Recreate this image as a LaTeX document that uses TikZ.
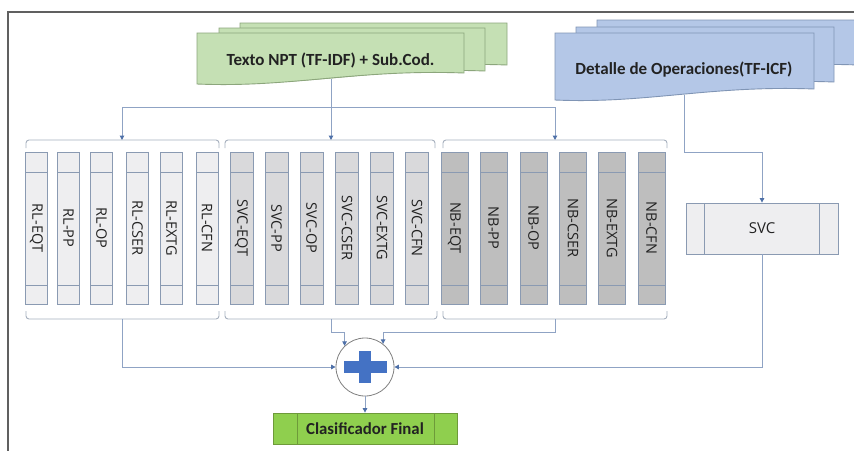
\documentclass[tikz,border=0pt]{standalone}
\usepackage{fontspec}
\setmainfont{Open Sans}
\newfontfamily\calib{Carlito}
\usetikzlibrary{arrows.meta,calc}
\definecolor{framecol}{HTML}{606060}
\definecolor{conncol}{HTML}{8FA3C4}
\definecolor{tipcol}{HTML}{4E70A8}
\definecolor{brkcol}{HTML}{A7B0BE}
\definecolor{boxcol}{HTML}{8A9AB2}
\definecolor{rlfill}{HTML}{EEEEF0}
\definecolor{svcfill}{HTML}{D9D9DB}
\definecolor{nbfill}{HTML}{BEBEBE}
\definecolor{gdocfill}{HTML}{C5E0B4}
\definecolor{gdocline}{HTML}{8CA67C}
\definecolor{bdocfill}{HTML}{B4C7E7}
\definecolor{bdocline}{HTML}{8095B5}
\definecolor{fingreen}{HTML}{8FCF4E}
\definecolor{finline}{HTML}{6E9A3A}
\definecolor{pluscol}{HTML}{4472C4}
\definecolor{txtcol}{HTML}{222222}
\newcommand\mdoc[5]{%
  \pgfmathsetmacro\mdw{#3-#1}%
  \path[#5] (#1,#2) -- (#3,#2) -- (#3,#4-11)
    .. controls ({#1+0.6*\mdw},{#4-15}) and ({#1+0.35*\mdw},{#4+4}) .. (#1,#4) -- cycle;}
\begin{document}
\begin{tikzpicture}[x=1pt,y=-1pt,
  conn/.style={draw=conncol, line width=1pt},
  arr/.style={-{Triangle[length=4.5pt,width=4.5pt,color=tipcol]}},
  brk/.style={draw=brkcol, line width=0.9pt, rounded corners=3pt},
  colbox/.style={draw=boxcol, line width=0.8pt, minimum height=152, inner sep=0pt,
    path picture={
      \draw[boxcol,line width=0.8pt] ([yshift=-20pt]path picture bounding box.north west) -- ([yshift=-20pt]path picture bounding box.north east);
      \draw[boxcol,line width=0.8pt] ([yshift=19pt]path picture bounding box.south west) -- ([yshift=19pt]path picture bounding box.south east);}},
  coltext/.style={rotate=-90, text=txtcol, inner sep=0pt, font=\fontsize{14.5}{16}\selectfont},
  doctext/.style={text=txtcol, font=\calib\bfseries\fontsize{17}{19}\selectfont}
]
\clip (0,0) rectangle (854,450);
\fill[white] (0,0) rectangle (854,450);
% frame
\draw[framecol, line width=1.3pt] (8,470) -- (8,12) -- (870,12);

% green documents
\mdoc{240}{23}{507}{76}{fill=gdocfill, draw=gdocline, line width=0.9pt}
\mdoc{219}{28}{485}{82}{fill=gdocfill, draw=gdocline, line width=0.9pt}
\mdoc{197}{33}{464}{84}{fill=gdocfill, draw=gdocline, line width=0.9pt}
\node[doctext] (gdoc) at (330.5,60) {Texto NPT (TF-IDF) + Sub.Cod.};
\coordinate (gdocB) at (331,79);

% blue documents
\mdoc{597}{20}{858}{76}{fill=bdocfill, draw=bdocline, line width=0.9pt}
\mdoc{576}{27}{834}{93}{fill=bdocfill, draw=bdocline, line width=0.9pt}
\mdoc{555}{33}{814}{100}{fill=bdocfill, draw=bdocline, line width=0.9pt}
\node[doctext] (bdoc) at (684,70) {Detalle de Operaciones(TF-ICF)};
\coordinate (bdocB) at (684,95);

% columns
\foreach \nm/\cx [count=\i] in {RL-EQT/36.5,RL-PP/68.5,RL-OP/101.5,RL-CSER/137.5,RL-EXTG/171.5,RL-CFN/207}{
  \node[colbox, fill=rlfill, minimum width=22] (rl\i) at (\cx,228) {};
  \node[coltext] (rlt\i) at (rl\i) {\nm};
}
\foreach \nm/\cx [count=\i] in {SVC-EQT/241.5,SVC-PP/276.5,SVC-OP/311.5,SVC-CSER/347,SVC-EXTG/382,SVC-CFN/417}{
  \node[colbox, fill=svcfill, minimum width=23] (sv\i) at (\cx,228) {};
  \node[coltext] (svt\i) at (sv\i) {\nm};
}
\foreach \nm/\cx [count=\i] in {NB-EQT/454.5,NB-PP/493.5,NB-OP/533.5,NB-CSER/573,NB-EXTG/612,NB-CFN/651.5}{
  \node[colbox, fill=nbfill, minimum width=27] (nb\i) at (\cx,228) {};
  \node[coltext] (nbt\i) at (nb\i) {\nm};
}

% brackets
\draw[brk] (26,148) -- (26,140) -- (219,140) -- (219,148);
\draw[brk] (225,148) -- (225,140) -- (435,140) -- (435,148);
\draw[brk] (443,148) -- (443,140) -- (667,140) -- (667,148);
\draw[brk] (26,311) -- (26,319) -- (219,319) -- (219,311);
\draw[brk] (225,311) -- (225,319) -- (437,319) -- (437,311);
\draw[brk] (443,311) -- (443,319) -- (667,319) -- (667,311);
\coordinate (rlTop) at (122,140);
\coordinate (svTop) at (331,140);
\coordinate (nbTop) at (555,140);
\coordinate (rlBot) at (122,319);
\coordinate (svBot) at (331,319);
\coordinate (nbBot) at (555,319);

% SVC box
\node[draw=boxcol, fill=rlfill, line width=0.8pt, minimum width=152, minimum height=51, inner sep=0pt,
  text=txtcol, font=\fontsize{15}{17}\selectfont,
  path picture={
    \draw[boxcol,line width=0.8pt] ([xshift=18pt]path picture bounding box.north west) -- ([xshift=18pt]path picture bounding box.south west);
    \draw[boxcol,line width=0.8pt] ([xshift=-19pt]path picture bounding box.north east) -- ([xshift=-19pt]path picture bounding box.south east);}]
  (svc) at (762,228.5) {SVC};

% plus circle
\node[circle, draw=gray, fill=white, line width=0.8pt, minimum size=58, inner sep=0pt] (plus) at (365,367) {};
\fill[pluscol] ($(plus)+(-21.5,-6)$) rectangle ($(plus)+(21.5,6)$);
\fill[pluscol] ($(plus)+(-6,-16)$) rectangle ($(plus)+(6,16)$);

% final box
\node[draw=finline, fill=fingreen, line width=0.8pt, minimum width=184, minimum height=31, inner sep=0pt,
  text=txtcol, font=\calib\bfseries\fontsize{16.8}{18}\selectfont,
  path picture={
    \draw[finline,line width=0.8pt] ([xshift=24pt]path picture bounding box.north west) -- ([xshift=24pt]path picture bounding box.south west);
    \draw[finline,line width=0.8pt] ([xshift=-23pt]path picture bounding box.north east) -- ([xshift=-23pt]path picture bounding box.south east);}]
  (final) at (365,428.5) {Clasificador Final};

% connectors
\coordinate (gsplit) at (331,107);
\coordinate (hL) at (122,107);
\coordinate (hR) at (555,107);
\coordinate (bturn) at (762,152);
\draw[conn] (gdocB) -- (gsplit);
\draw[conn] (hL) -- (hR);
\draw[conn,arr] (hL) -- (rlTop);
\draw[conn,arr] (gsplit) -- (svTop);
\draw[conn,arr] (hR) -- (nbTop);
\draw[conn,arr] (bdocB) |- (bturn) -- (svc.north);
\draw[conn,arr] (svc.south) |- (plus.east);
\draw[conn,arr] (rlBot) |- (plus.west);
\draw[conn,arr] (svBot) -- ++(0,13) -| (plus.134);
\draw[conn,arr] (nbBot) -- ++(0,13) -| (plus.52);
\draw[conn,arr] (plus.south) -- (final.north);
\end{tikzpicture}
\end{document}
